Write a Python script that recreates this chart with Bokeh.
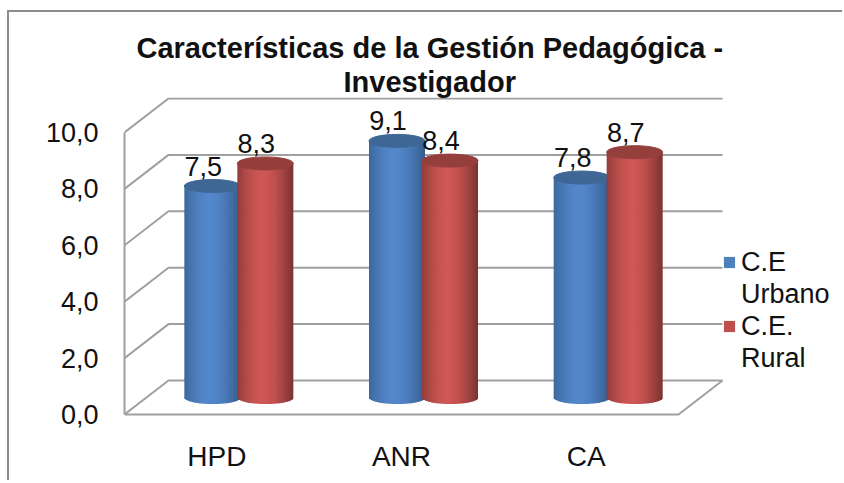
import numpy as np
from bokeh.plotting import figure
from bokeh.models import Range1d, FixedTicker, Legend, LegendItem, Title, ColumnDataSource
from bokeh.core.properties import value
from bokeh.embed import file_html
from bokeh.resources import INLINE

categories = ["HPD", "ANR", "CA"]
urbano = [7.5, 9.1, 7.8]
rural = [8.3, 8.4, 8.7]
urbano_labels = ["7,5", "9,1", "7,8"]
rural_labels = ["8,3", "8,4", "8,7"]
y_ticks = [0, 2, 4, 6, 8, 10]
y_tick_labels = ["0,0", "2,0", "4,0", "6,0", "8,0", "10,0"]
title_lines = ["Características de la Gestión Pedagógica -", "Investigador"]
series_names = [["C.E", "Urbano"], ["C.E.", "Rural"]]

FONT = "Liberation Sans"
GRID = "#a0a0a0"
PX_X = 184.67      # pixels per category
PX_Y = 28.2        # pixels per value unit
DEPTH_X = 44 / PX_X
DEPTH_Y = 34 / PX_Y
HALF_W = 28 / PX_X
CAP = 6.5 / PX_Y
SHIFT = 26.5 / PX_X

p = figure(width=835, height=470, output_backend="svg", toolbar_location=None,
           x_range=Range1d(0, 720 / PX_X), y_range=Range1d(-2 / PX_Y, 317 / PX_Y),
           min_border_left=115, min_border_right=0, min_border_top=85, min_border_bottom=66,
           outline_line_color=None, background_fill_color="white")
p.styles = {"border-left": "2px solid #8c8c8c", "border-top": "2px solid #8c8c8c",
            "margin-left": "7px", "margin-top": "10px"}
p.grid.visible = False

# axes
p.yaxis.ticker = FixedTicker(ticks=y_ticks)
p.yaxis.major_label_overrides = dict(zip(y_ticks, y_tick_labels))
p.yaxis.bounds = (y_ticks[0], y_ticks[-1])
p.yaxis.axis_line_color = GRID
p.yaxis.axis_line_width = 2
p.yaxis.major_tick_line_color = None
p.yaxis.minor_tick_line_color = None
p.yaxis.major_label_standoff = 20
p.yaxis.major_label_text_font = FONT
p.yaxis.major_label_text_font_size = "27px"
p.yaxis.major_label_text_color = "#111111"

n = len(categories)
centers = [i + 0.5 for i in range(n)]
p.xaxis.ticker = FixedTicker(ticks=centers)
p.xaxis.major_label_overrides = dict(zip(centers, categories))
p.xaxis.axis_line_color = None
p.xaxis.major_tick_line_color = None
p.xaxis.minor_tick_line_color = None
p.xaxis.major_label_standoff = 18
p.xaxis.major_label_text_font = FONT
p.xaxis.major_label_text_font_size = "28px"
p.xaxis.major_label_text_color = "#111111"

# walls and floor
xs, ys = [], []
for t in y_ticks:
    xs.append([0, DEPTH_X, n + DEPTH_X])
    ys.append([t, t + DEPTH_Y, t + DEPTH_Y])
xs.append([0, n, n + DEPTH_X])
ys.append([0, 0, DEPTH_Y])
p.multi_line(xs, ys, line_color=GRID, line_width=2)


def shade(t, dark, mid):
    k = np.clip(np.abs(t + 0.1) / 1.1, 0, 1) ** 1.6
    c = np.array(mid) * (1 - k) + np.array(dark) * k
    return "#%02x%02x%02x" % tuple(int(v) for v in c)


def cylinder(cx, v, dark, mid, cap):
    edges = np.linspace(-1, 1, 39)
    tc = (edges[:-1] + edges[1:]) / 2
    step = edges[1] - edges[0]
    base = DEPTH_Y / 2
    cols = [shade(t, dark, mid) for t in tc]
    src = ColumnDataSource(dict(
        left=cx + edges[:-1] * HALF_W,
        right=cx + np.minimum(edges[1:] + step / 2, 1) * HALF_W,
        bottom=base - CAP * np.sqrt(1 - tc ** 2),
        top=base + v + 0 * tc, color=cols))
    p.quad(left="left", right="right", bottom="bottom", top="top", source=src,
           fill_color="color", line_color=None)
    p.ellipse([cx], [base + v], width=2 * HALF_W, height=2 * CAP,
              fill_color=cap, line_color=cap)


BLUE = dict(dark=(52, 92, 140), mid=(84, 136, 204), cap="#3e6796")
RED = dict(dark=(122, 50, 48), mid=(208, 88, 86), cap="#953f3c")
for i in range(n):
    cx = centers[i] + DEPTH_X / 2
    cylinder(cx - SHIFT, urbano[i], **BLUE)
    cylinder(cx + SHIFT, rural[i], **RED)

# data labels
lab_x = [c + DEPTH_X / 2 - SHIFT for c in centers] + [c + DEPTH_X / 2 + SHIFT for c in centers]
lab_y = [v + DEPTH_Y / 2 for v in urbano + rural]
p.text(lab_x, lab_y, text=urbano_labels + rural_labels, text_font=value(FONT),
       text_font_size="27px", text_color="#111111", text_align="center",
       text_baseline="middle", x_offset=-9, y_offset=-20)

# legend: each name spans two rows, the key square sits on the first row
nan = float("nan")
def key(color, alpha):
    return p.quad([nan], [nan], [nan], [nan], fill_color=color, fill_alpha=alpha, line_color=None)

items = []
for names, color in zip(series_names, ["#4f81bd", "#c0504d"]):
    items.append(LegendItem(label=names[0], renderers=[key(color, 1)]))
    items.append(LegendItem(label=names[1], renderers=[key(color, 0)]))
legend = Legend(items=items, location=(598, 42), background_fill_alpha=0, border_line_color=None,
                label_text_font=FONT, label_text_font_size="27px", label_text_color="#111111",
                glyph_width=14, glyph_height=14, spacing=0, padding=0, margin=0,
                label_standoff=5, label_height=32)
p.add_layout(legend, "center")

# title
for line, off in reversed(list(zip(title_lines, [12, 219]))):
    p.add_layout(Title(text=line, align="left", offset=off, text_font=FONT,
                       text_font_size="29px", text_font_style="bold", text_color="#111111",
                       standoff=0), "above")

open("out.html", "w").write(file_html(p, INLINE))
